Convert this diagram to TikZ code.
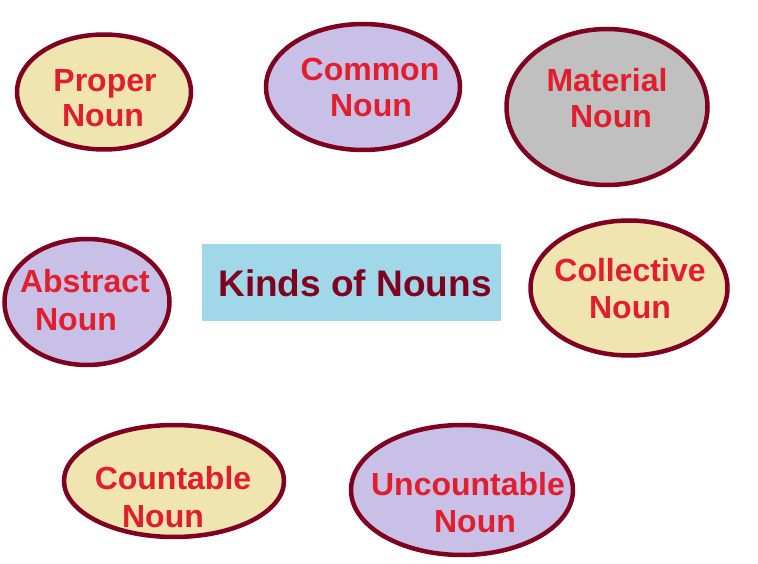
\documentclass[tikz,border=0pt]{standalone}
\usepackage{fontspec}
\setmainfont{Liberation Sans}
\usetikzlibrary{shapes.geometric}
\definecolor{rim}{RGB}{128,0,32}
\definecolor{redtxt}{RGB}{225,30,45}
\definecolor{cream}{RGB}{240,228,176}
\definecolor{lav}{RGB}{200,192,230}
\definecolor{grey}{RGB}{192,192,192}
\definecolor{sky}{RGB}{160,216,234}
\tikzset{
  oval/.style={ellipse, draw=rim, line width=4.5pt, inner sep=0pt},
  word/.style={anchor=base, inner sep=0pt, text=redtxt, font=\fontsize{32}{36}\selectfont\bfseries},
}
\begin{document}
\begin{tikzpicture}[x=1pt,y=-1pt]
\useasboundingbox (0,0) rectangle (758,564);
\fill[white] (0,0) rectangle (758,564);
% central box
\node[fill=sky, minimum width=299pt, minimum height=77pt, inner sep=0pt] (box) at (351.5,282.5) {};
\node[anchor=base, inner sep=0pt, text=rim, font=\fontsize{37}{40}\selectfont\bfseries] (title) at (355,296) {Kinds of Nouns};
% ellipses
\node[oval, fill=cream, minimum width=174pt, minimum height=115pt] (proper) at (104,92) {};
\node[oval, fill=lav, minimum width=194pt, minimum height=126pt] (common) at (363,87) {};
\node[oval, fill=grey, minimum width=201pt, minimum height=156pt] (material) at (607,107) {};
\node[oval, fill=lav, minimum width=165pt, minimum height=126pt] (abstract) at (87,302) {};
\node[oval, fill=cream, minimum width=197pt, minimum height=135pt] (collective) at (629,288) {};
\node[oval, fill=cream, minimum width=220pt, minimum height=112pt] (countable) at (174,481) {};
\node[oval, fill=lav, minimum width=222pt, minimum height=130pt] (uncountable) at (462,490) {};
% labels
\node[word] (p1) at (105,92) {Proper};
\node[word] (p2) at (103,127) {Noun};
\node[word] (c1) at (370,81) {Common};
\node[word] (c2) at (371,117) {Noun};
\node[word] (m1) at (607,92) {Material};
\node[word] (m2) at (611,128) {Noun};
\node[word] (a1) at (85,293) {Abstract};
\node[word] (a2) at (76,330) {Noun};
\node[word] (k1) at (630,282) {Collective};
\node[word] (k2) at (630,318) {Noun};
\node[word] (t1) at (173,489) {Countable};
\node[word] (t2) at (163,527) {Noun};
\node[word] (u1) at (468,495) {Uncountable};
\node[word] (u2) at (475,532) {Noun};
\end{tikzpicture}
\end{document}
